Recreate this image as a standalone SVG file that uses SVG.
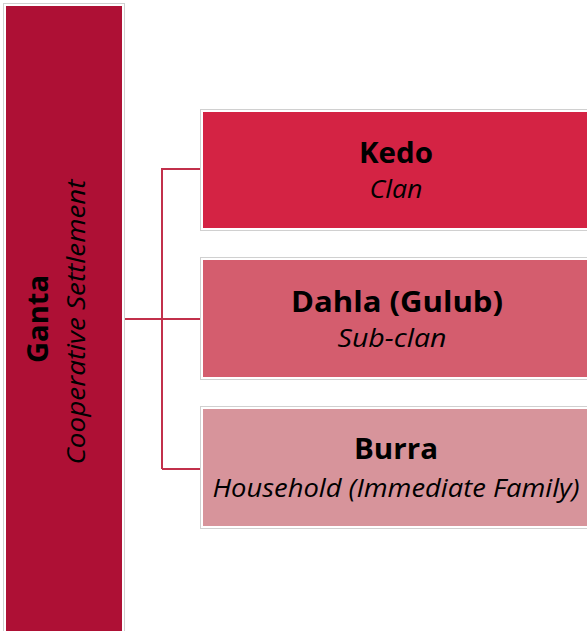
<svg xmlns="http://www.w3.org/2000/svg" width="587" height="631" viewBox="0 0 587 631">
<style>
.box{stroke:#ffffff;stroke-width:2}
.frame{fill:none;stroke:#d0d0d0;stroke-width:1}
.t{font-family:"Open Sans",Lato,sans-serif;fill:#000;text-anchor:middle}
.b{font-weight:bold;font-size:29px}
.i{font-style:italic;font-size:25px}
.con{fill:none;stroke:#c2304b;stroke-width:2}
</style>
<rect width="587" height="631" fill="#ffffff"/>
<g id="ganta">
<rect x="3.5" y="3.5" width="121" height="640" class="frame"/>
<rect x="5" y="5" width="118" height="640" fill="#ae1035" class="box"/>
<text class="t b" transform="translate(48,319) rotate(-90)" textLength="88" lengthAdjust="spacingAndGlyphs">Ganta</text>
<text class="t i" transform="translate(85,322) rotate(-90)" textLength="285" lengthAdjust="spacingAndGlyphs">Cooperative Settlement</text>
</g>
<g id="connectors">
<path class="con" d="M162,469 V169 H200 M162,319 H200 M162,469 H200"/>
<path class="con" d="M125,319 H162" stroke-width="3"/>
</g>
<g id="kedo">
<rect x="200.5" y="109.5" width="400" height="121" class="frame"/>
<rect x="202" y="111" width="400" height="118" fill="#d42344" class="box"/>
<text class="t b" x="396" y="163" textLength="74" lengthAdjust="spacingAndGlyphs">Kedo</text>
<text class="t i" x="396" y="198" textLength="53" lengthAdjust="spacingAndGlyphs">Clan</text>
</g>
<g id="dahla">
<rect x="200.5" y="257.5" width="400" height="122" class="frame"/>
<rect x="202" y="259" width="400" height="119" fill="#d45d6e" class="box"/>
<text class="t b" x="397" y="312" textLength="212" lengthAdjust="spacingAndGlyphs">Dahla (Gulub)</text>
<text class="t i" x="392" y="347" textLength="109" lengthAdjust="spacingAndGlyphs">Sub-clan</text>
</g>
<g id="burra">
<rect x="200.5" y="406.5" width="400" height="122" class="frame"/>
<rect x="202" y="408" width="400" height="119" fill="#d7949b" class="box"/>
<text class="t b" x="396" y="459" textLength="84" lengthAdjust="spacingAndGlyphs">Burra</text>
<text class="t i" x="396" y="497" textLength="367" lengthAdjust="spacingAndGlyphs">Household (Immediate Family)</text>
</g>
</svg>
